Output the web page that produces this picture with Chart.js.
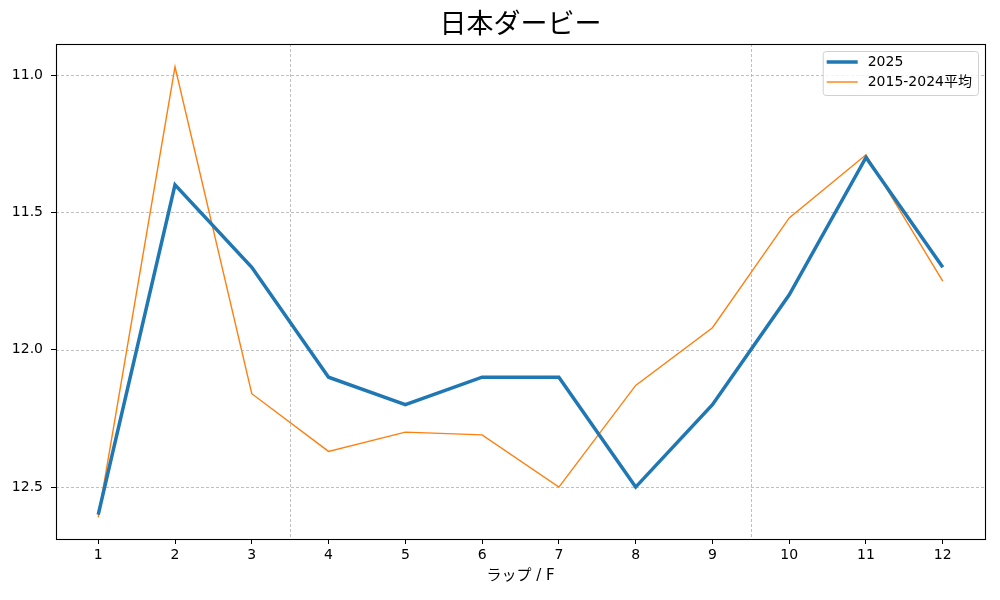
<!DOCTYPE html>
<html><head><meta charset="utf-8">
<script src="https://cdn.jsdelivr.net/npm/chart.js@4"></script>
<style>html,body{margin:0;padding:0;background:#fff}#wrap{width:1000px;height:600px}</style>
</head><body><div id="wrap"><canvas id="c" width="1000" height="600"></canvas></div>
<script>
const chartTitle = '日本ダービー';
const xAxisTitle = 'ラップ / F';
const laps = [1, 2, 3, 4, 5, 6, 7, 8, 9, 10, 11, 12];
const seriesNames = ['2025', '2015-2024平均'];
const times2025 = [12.6, 11.4, 11.7, 12.1, 12.2, 12.1, 12.1, 12.5, 12.2, 11.8, 11.3, 11.7];
const timesAvg = [12.61, 10.97, 12.16, 12.37, 12.30, 12.31, 12.50, 12.13, 11.92, 11.52, 11.29, 11.75];
const yTicks = [11.0, 11.5, 12.0, 12.5];
const sectionBreaks = [3.5, 9.5];

const FONT = '"DejaVu Sans", "Noto Sans CJK JP", sans-serif';
const toPts = arr => arr.map((v, i) => ({x: laps[i], y: v}));

const decor = {
  id: 'decor',
  beforeDatasetsDraw(chart) {
    const {ctx, chartArea: a, scales} = chart;
    ctx.save();
    ctx.strokeStyle = '#b0b0b0';
    ctx.lineWidth = 0.8;
    ctx.setLineDash([3, 2]);
    yTicks.forEach(v => {
      const y = Math.round(scales.y.getPixelForValue(v)) + 0.5;
      ctx.beginPath(); ctx.moveTo(a.left, y); ctx.lineTo(a.right, y); ctx.stroke();
    });
    sectionBreaks.forEach(v => {
      const x = Math.round(scales.x.getPixelForValue(v)) + 0.5;
      ctx.beginPath(); ctx.moveTo(x, a.top); ctx.lineTo(x, a.bottom); ctx.stroke();
    });
    ctx.restore();
  },
  afterDatasetsDraw(chart) {
    const {ctx, chartArea: a} = chart;
    ctx.save();
    // frame
    ctx.strokeStyle = '#000';
    ctx.lineWidth = 1.1;
    ctx.strokeRect(Math.round(a.left) + 0.5, Math.round(a.top) + 0.5, Math.round(a.right - a.left), Math.round(a.bottom - a.top));
    // title
    ctx.fillStyle = '#000';
    ctx.font = '27px ' + FONT;
    ctx.textAlign = 'center';
    ctx.textBaseline = 'middle';
    ctx.fillText(chartTitle, (a.left + a.right) / 2, 26);
    // legend
    ctx.font = '14px ' + FONT;
    const ds = chart.data.datasets;
    const tw = Math.max(...ds.map(d => ctx.measureText(d.label).width));
    const w = 4 + 31 + 10 + tw + 6;
    const h = 44;
    const x0 = a.right - 7 - w, y0 = a.top + 7;
    ctx.beginPath();
    ctx.roundRect(x0 + 0.5, y0 + 0.5, w, h, 3);
    ctx.fillStyle = 'rgba(255,255,255,0.8)';
    ctx.fill();
    ctx.strokeStyle = '#d0d0d0';
    ctx.lineWidth = 1;
    ctx.stroke();
    ds.forEach((d, i) => {
      const y = y0 + 11 + i * 20;
      ctx.strokeStyle = d.borderColor;
      ctx.lineWidth = d.borderWidth;
      ctx.beginPath(); ctx.moveTo(x0 + 4, y); ctx.lineTo(x0 + 35, y); ctx.stroke();
      ctx.fillStyle = '#000';
      ctx.textAlign = 'left';
      ctx.textBaseline = 'middle';
      ctx.fillText(d.label, x0 + 45, y);
    });
    ctx.restore();
  }
};

new Chart(document.getElementById('c'), {
  type: 'line',
  data: {
    datasets: [
      {label: seriesNames[0], data: toPts(times2025), borderColor: '#1f77b4', borderWidth: 3.5, pointRadius: 0, tension: 0, fill: false},
      {label: seriesNames[1], data: toPts(timesAvg), borderColor: '#ff7f0e', borderWidth: 1.4, pointRadius: 0, tension: 0, fill: false}
    ]
  },
  options: {
    responsive: false,
    devicePixelRatio: 1,
    animation: false,
    layout: {padding: {top: 44, right: 15, left: 0, bottom: 0}},
    plugins: {legend: {display: false}, title: {display: false}, tooltip: {enabled: false}},
    scales: {
      x: {
        type: 'linear', min: 0.45, max: 12.55,
        afterBuildTicks: s => { s.ticks = laps.map(v => ({value: v})); },
        afterFit: s => { s.height = 61; },
        grid: {drawOnChartArea: false, drawTicks: true, tickLength: 5, tickColor: '#000', tickWidth: 1},
        border: {display: false},
        ticks: {color: '#000', font: {family: FONT, size: 14}, padding: 3, maxRotation: 0, callback: v => String(v)},
        title: {display: true, text: xAxisTitle, color: '#000', font: {family: FONT, size: 15}, padding: {top: 2, bottom: 15}}
      },
      y: {
        type: 'linear', reverse: true, min: 10.887, max: 12.689,
        afterBuildTicks: s => { s.ticks = yTicks.map(v => ({value: v})); },
        afterFit: s => { s.width = 56; },
        grid: {drawOnChartArea: false, drawTicks: true, tickLength: 5, tickColor: '#000', tickWidth: 1},
        border: {display: false},
        ticks: {color: '#000', font: {family: FONT, size: 14}, padding: 8, callback: v => v.toFixed(1)}
      }
    }
  },
  plugins: [decor]
});
</script>
</body></html>
